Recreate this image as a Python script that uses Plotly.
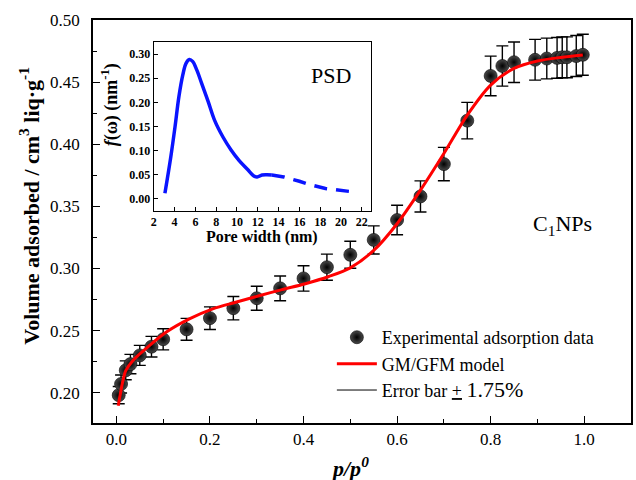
import plotly.graph_objects as go

# Experimental adsorption data (p/p0, volume adsorbed)
exp_x = [0.005, 0.01, 0.02, 0.03, 0.05, 0.075, 0.10, 0.15, 0.20, 0.25, 0.30, 0.35,
         0.40, 0.45, 0.50, 0.55, 0.60, 0.65, 0.70, 0.75, 0.80, 0.825, 0.85,
         0.895, 0.92, 0.942, 0.953, 0.963, 0.983, 0.997]
exp_y = [0.198, 0.207, 0.218, 0.223, 0.230, 0.237, 0.243, 0.251, 0.260, 0.268, 0.276, 0.284,
         0.292, 0.301, 0.311, 0.323, 0.339, 0.358, 0.384, 0.419, 0.455, 0.463, 0.466,
         0.468, 0.469, 0.4695, 0.470, 0.470, 0.471, 0.472]
err_pct = 3.5

# GM/GFM model curve
model_x = [0.004, 0.014, 0.02, 0.035, 0.071, 0.106, 0.156, 0.206, 0.255, 0.305, 0.354,
           0.404, 0.454, 0.50, 0.55, 0.60, 0.65, 0.70, 0.75, 0.80, 0.85, 0.90, 0.95, 0.997]
model_y = [0.1895, 0.2097, 0.2177, 0.2258, 0.238, 0.2486, 0.2594, 0.2675, 0.2728, 0.278, 0.283,
           0.2877, 0.2935, 0.3005, 0.3145, 0.336, 0.363, 0.3925, 0.4234, 0.4476, 0.461, 0.467,
           0.4699, 0.4718]

# Pore size distribution (inset)
psd_x = [3.07, 3.63, 4.04, 4.41, 4.79, 5.10, 5.42, 5.73, 6.14, 6.61, 7.24, 7.86, 8.65,
         9.43, 10.21, 11.0, 11.62, 11.94, 12.41, 12.88, 13.35]
psd_y = [0.011, 0.086, 0.149, 0.211, 0.257, 0.281, 0.289, 0.285, 0.267, 0.239, 0.201,
         0.162, 0.128, 0.101, 0.079, 0.061, 0.047, 0.045, 0.049, 0.0495, 0.049]
psd_ext_x = [13.35, 14.5, 16.0, 17.0, 18.5, 20.0, 21.5]
psd_ext_y = [0.049, 0.045, 0.036, 0.029, 0.021, 0.017, 0.013]

x_ticks = [0.0, 0.2, 0.4, 0.6, 0.8, 1.0]
y_ticks = [0.20, 0.25, 0.30, 0.35, 0.40, 0.45, 0.50]
ix_ticks = list(range(2, 23, 2))
iy_ticks = [0.00, 0.05, 0.10, 0.15, 0.20, 0.25, 0.30]

SERIF = "Liberation Serif"

fig = go.Figure()

fig.add_trace(go.Scatter(
    x=exp_x, y=exp_y, mode="markers", name="Experimental adsorption data",
    legendrank=1,
    marker=dict(size=13, color="#4a4a4a", gradient=dict(type="radial", color="#000000"),
                line=dict(width=0.6, color="black")),
    error_y=dict(type="percent", value=err_pct, color="black", thickness=1.4, width=6),
))
fig.add_trace(go.Scatter(
    x=model_x, y=model_y, mode="lines", name="GM/GFM model", legendrank=2,
    line=dict(color="red", width=3, shape="spline", smoothing=0.8),
))
fig.add_trace(go.Scatter(
    x=[None], y=[None], mode="lines", legendrank=3,
    name='Error bar <span style="text-decoration:underline">+</span> <span style="font-size:22px">1.75%</span>',
    line=dict(color="black", width=1),
))

fig.add_trace(go.Scatter(
    x=psd_x, y=psd_y, mode="lines", xaxis="x2", yaxis="y2", showlegend=False,
    line=dict(color="#0a14ff", width=3.5, shape="spline"),
))
fig.add_trace(go.Scatter(
    x=psd_ext_x, y=psd_ext_y, mode="lines", xaxis="x2", yaxis="y2", showlegend=False,
    line=dict(color="#0a14ff", width=3.5, dash="13px,9px"),
))

axis_common = dict(showline=True, linecolor="black", mirror=True,
                   showgrid=False, zeroline=False, ticks="inside", tickcolor="black")

fig.update_layout(
    width=636, height=480,
    margin=dict(l=93, r=3, t=20, b=57),
    plot_bgcolor="white", paper_bgcolor="white",
    font=dict(family=SERIF, color="black"),
    xaxis=dict(**axis_common, linewidth=1.5, range=[-0.05, 1.10], tickvals=x_ticks,
               tickformat=".1f", ticklen=7, tickwidth=1.3,
               minor=dict(dtick=0.1, tick0=0, ticks="inside", ticklen=4, tickcolor="black"),
               tickfont=dict(family=SERIF, size=17), ticklabelstandoff=0),
    yaxis=dict(**axis_common, linewidth=1.5, range=[0.1756, 0.50], tickvals=y_ticks,
               tickformat=".2f", ticklen=7, tickwidth=1.3,
               minor=dict(dtick=0.025, tick0=0.2, ticks="inside", ticklen=4, tickcolor="black"),
               tickfont=dict(family=SERIF, size=17), ticklabelstandoff=8),
    xaxis2=dict(**axis_common, domain=[0.113, 0.517], anchor="y2", range=[2, 22.9],
                tickvals=ix_ticks, ticklen=4, linewidth=1.2,
                tickfont=dict(family=SERIF, size=12, weight="bold")),
    yaxis2=dict(**axis_common, domain=[0.527, 0.945], anchor="x2", range=[-0.025, 0.325],
                tickvals=iy_ticks, tickformat=".2f", ticklen=4, linewidth=1.2,
                tickfont=dict(family=SERIF, size=12, weight="bold")),
    legend=dict(x=0.444, y=0.258, xanchor="left", yanchor="top",
                font=dict(family=SERIF, size=18), bgcolor="rgba(0,0,0,0)",
                tracegroupgap=0, itemwidth=40),
    showlegend=True,
)

annotations = [
    dict(text="<b>Volume adsorbed / cm<sup>3</sup> liq·g<sup>-1</sup></b>", textangle=-90,
         x=-0.118, y=0.538, font=dict(size=22)),
    dict(text="<b><i>p/p</i><sup><i>0</i></sup></b>", x=0.477, y=-0.108, font=dict(size=22)),
    dict(text="C<sub>1</sub>NPs", x=0.872, y=0.491, font=dict(size=22)),
    dict(text="PSD", x=0.443, y=0.8615, font=dict(size=22)),
    dict(text="<b><i>f</i>(ω) (nm<sup>-1</sup>)</b>", textangle=-90, x=0.031, y=0.79,
         font=dict(size=18)),
    dict(text="<b>Pore width (nm)</b>", x=0.315, y=0.461, font=dict(size=16)),
]
for a in annotations:
    a.update(xref="paper", yref="paper", xanchor="center", yanchor="middle",
             showarrow=False)
    a["font"]["family"] = SERIF
    a["font"]["color"] = "black"
fig.update_layout(annotations=annotations)

fig.write_html("out.html")
